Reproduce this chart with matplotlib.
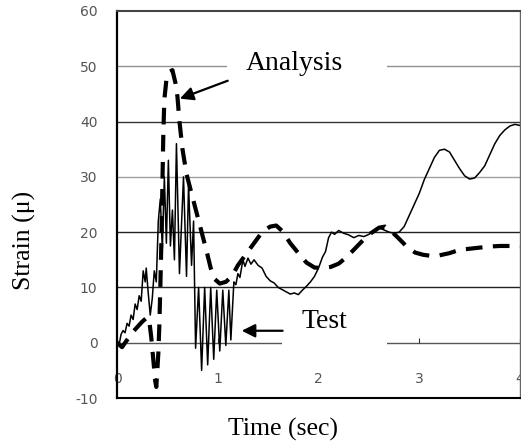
import matplotlib
matplotlib.use("Agg")
import matplotlib.pyplot as plt
from matplotlib.patches import Rectangle

# ---- data ----
test_t = [0.00, 0.02, 0.04, 0.06, 0.08, 0.10, 0.12, 0.14, 0.16, 0.18, 0.20, 0.22, 0.24,
          0.26, 0.28, 0.29, 0.31, 0.33, 0.35, 0.37, 0.39, 0.41, 0.43, 0.45, 0.47, 0.49,
          0.51, 0.53, 0.55, 0.57, 0.59, 0.62, 0.66, 0.69, 0.71, 0.74, 0.76, 0.78, 0.81,
          0.84, 0.87, 0.90, 0.93, 0.96, 0.99, 1.02, 1.05, 1.08, 1.11, 1.13, 1.16, 1.18,
          1.20, 1.22, 1.25, 1.27, 1.30, 1.33, 1.36, 1.40, 1.44, 1.48, 1.52, 1.56, 1.60,
          1.64, 1.68, 1.72, 1.76, 1.80, 1.84, 1.88, 1.92, 1.96, 2.00, 2.04, 2.07, 2.10,
          2.13, 2.16, 2.20, 2.25, 2.30, 2.35, 2.40, 2.45, 2.50, 2.55, 2.60, 2.65, 2.70,
          2.75, 2.80, 2.85, 2.90, 2.95, 3.00, 3.05, 3.10, 3.15, 3.20, 3.25, 3.30, 3.35,
          3.40, 3.45, 3.50, 3.55, 3.60, 3.65, 3.70, 3.75, 3.80, 3.85, 3.90, 3.95, 4.00]
test_v = [0.5, -0.5, 1.5, 2.2, 1.8, 3.5, 3.0, 5.0, 4.2, 7.0, 6.0, 8.5, 7.5,
          13.0, 11.0, 13.5, 9.0, 5.0, 8.0, 13.0, 11.0, 22.0, 26.0, 17.0, 30.0, 18.0,
          33.0, 17.5, 24.0, 15.0, 36.0, 12.5, 30.0, 12.0, 28.5, 14.0, 22.0, -1.0, 10.0,
          -5.0, 10.0, -4.0, 10.0, -3.0, 9.5, -1.5, 9.5, -0.5, 9.5, 0.5, 11.0, 10.5,
          12.5, 11.8, 15.0, 13.8, 15.3, 14.2, 15.0, 14.0, 13.5, 12.0, 11.2, 10.8, 10.0,
          9.6, 9.2, 8.8, 9.0, 8.7, 9.5, 10.2, 11.0, 12.0, 13.5, 15.5, 16.5, 19.0,
          20.0, 19.6, 20.3, 19.8, 19.5, 19.0, 19.4, 19.2, 19.6, 20.2, 20.8, 20.4, 20.0,
          19.8, 20.0, 21.0, 23.0, 25.0, 27.0, 29.5, 31.5, 33.5, 34.8, 35.0, 34.5, 33.0,
          31.5, 30.2, 29.6, 29.8, 30.8, 32.0, 34.0, 36.0, 37.5, 38.5, 39.2, 39.5, 39.3]

analysis_t = [0.00, 0.05, 0.10, 0.15, 0.20, 0.25, 0.30, 0.32, 0.34, 0.36, 0.38, 0.39,
              0.41, 0.42, 0.43, 0.44, 0.45, 0.46, 0.47, 0.49, 0.52, 0.55, 0.58, 0.60,
              0.62, 0.65, 0.69, 0.74, 0.79, 0.84, 0.89, 0.93, 0.97, 1.02, 1.08, 1.14,
              1.20, 1.28, 1.36, 1.44, 1.52, 1.58, 1.64, 1.72, 1.80, 1.88, 1.96, 2.04,
              2.12, 2.20, 2.28, 2.36, 2.44, 2.52, 2.60, 2.66, 2.72, 2.80, 2.88, 2.96,
              3.04, 3.12, 3.20, 3.30, 3.40, 3.50, 3.60, 3.70, 3.80, 3.90, 4.00]
analysis_v = [0.0, -0.8, 0.5, 1.8, 2.8, 3.8, 4.6, 4.0, 1.0, -3.0, -7.0, -8.0,
              -2.0, 3.0, 10.0, 18.0, 28.0, 38.0, 44.0, 47.5, 49.0, 49.3, 47.0, 44.5,
              40.0, 35.0, 30.5, 27.0, 23.5, 20.0, 16.5, 13.5, 11.5, 10.7, 11.0, 12.0,
              14.0, 16.0, 18.0, 20.0, 21.0, 21.2, 20.2, 18.0, 16.2, 14.5, 13.6, 13.5,
              13.7, 14.3, 15.5, 17.0, 18.5, 19.8, 20.8, 21.0, 20.2, 18.8, 17.3, 16.3,
              15.9, 15.7, 15.8, 16.2, 16.8, 17.0, 17.2, 17.4, 17.5, 17.5, 17.4]

y_ticks = [-10, 0, 10, 20, 30, 40, 50, 60]
y_tick_labels = ["-10", "0", "10", "20", "30", "40", "50", "60"]
x_ticks = [0, 1, 2, 3, 4]
x_tick_labels = ["0", "1", "2", "3", "4"]

grid_colors = {-10: "none", 0: "#555555", 10: "#222222", 20: "#222222",
               30: "#a0a0a0", 40: "#333333", 50: "#909090", 60: "none"}

# ---- figure ----
W, H = 521, 441
fig = plt.figure(figsize=(W / 100, H / 100), dpi=100)
ax = fig.add_axes([117 / W, 1 - 398 / H, (520 - 117) / W, (398 - 11) / H])
ax.set_xlim(0, 4)
ax.set_ylim(-10, 60)

# gridlines
ax.set_yticks(y_ticks)
ax.set_yticklabels(y_tick_labels)
ax.yaxis.grid(True, linewidth=1.0)
for val, gl in zip(y_ticks, ax.get_ygridlines()):
    c = grid_colors[val]
    if c == "none":
        gl.set_visible(False)
    else:
        gl.set_color(c)
ax.set_axisbelow(True)

ax.tick_params(axis="y", length=0, pad=14, labelsize=10, labelcolor="#555555")
ax.set_xticks(x_ticks)
ax.set_xticklabels(x_tick_labels)
ax.tick_params(axis="x", length=0, pad=-19, labelsize=10, labelcolor="#555555")
for lbl in ax.get_xticklabels():
    lbl.set_clip_on(True)

# small ticks on zero line
ax.vlines(x_ticks, 0, 0.8, colors="#333333", linewidth=0.8, zorder=2)

# spines
ax.spines["left"].set_linewidth(1.6)
ax.spines["left"].set_color("black")
ax.spines["bottom"].set_linewidth(1.5)
ax.spines["bottom"].set_color("black")
ax.spines["top"].set_linewidth(1.5)
ax.spines["top"].set_color("#444444")
ax.spines["right"].set_linewidth(1.0)
ax.spines["right"].set_color("#666666")

# curves
ax.plot(test_t, test_v, color="black", linewidth=1.1, zorder=3)
ax.plot(analysis_t, analysis_v, color="black", linewidth=3.0,
        dashes=(4, 2.5), zorder=4)

# annotation boxes (white background covering gridlines)
def px2d(px, py):
    return ((px - 117) / 101.0, (342 - py) / 5.55)

x0, y0 = px2d(227, 92)
x1, y1 = px2d(388, 44)
ax.add_patch(Rectangle((x0, y0), x1 - x0, y1 - y0, facecolor="white",
                       edgecolor="none", zorder=2.5))
x0, y0 = px2d(282, 355)
x1, y1 = px2d(388, 300)
ax.add_patch(Rectangle((x0, y0), x1 - x0, y1 - y0, facecolor="white",
                       edgecolor="none", zorder=2.5))

serif = ["Liberation Serif", "DejaVu Serif"]
tx, ty = px2d(295, 62)
ax.text(tx, ty, "Analysis", family=serif, fontsize=20, ha="center", va="center", zorder=5)
tx, ty = px2d(325, 321)
ax.text(tx, ty, "Test", family=serif, fontsize=20, ha="center", va="center", zorder=5)

ax.annotate("", xy=px2d(180, 97), xytext=px2d(228, 79),
            arrowprops=dict(arrowstyle="-|>", color="black", lw=1.6,
                            mutation_scale=20, shrinkA=0, shrinkB=0), zorder=6)
ax.annotate("", xy=px2d(242, 330), xytext=px2d(283, 330),
            arrowprops=dict(arrowstyle="-|>", color="black", lw=1.6,
                            mutation_scale=20, shrinkA=0, shrinkB=0), zorder=6)

fig.text(24 / W, 1 - 240 / H, "Strain (\u03bc)", family=serif, fontsize=18.5,
         rotation=90, ha="center", va="center")
fig.text(283 / W, 1 - 429 / H, "Time (sec)", family=serif, fontsize=18.5,
         ha="center", va="center")

fig.savefig("out.png", dpi=100)
